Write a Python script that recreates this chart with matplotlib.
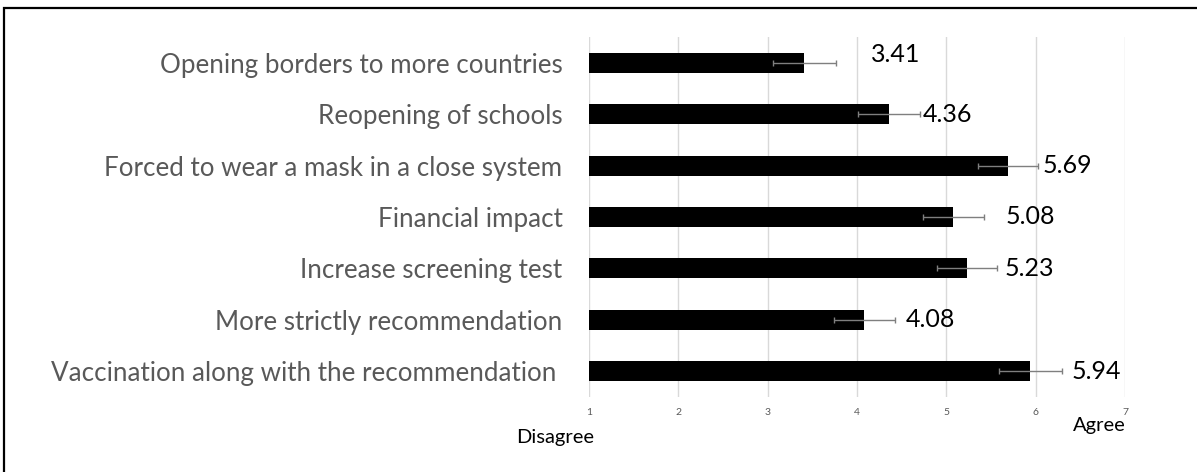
import matplotlib
matplotlib.use("Agg")
import matplotlib.pyplot as plt
from matplotlib.patches import Rectangle

plt.rcParams['font.family'] = ['Lato', 'DejaVu Sans']

# Survey items (top to bottom) and mean agreement scores (1-7 scale)
items = [
    "Opening borders to more countries",
    "Reopening of schools",
    "Forced to wear a mask in a close system",
    "Financial impact",
    "Increase screening test",
    "More strictly recommendation",
    "Vaccination along with the recommendation ",
]
means = [3.41, 4.36, 5.69, 5.08, 5.23, 4.08, 5.94]
errors = [0.35, 0.35, 0.34, 0.34, 0.34, 0.34, 0.35]
value_labels = ["3.41", "4.36", "5.69", "5.08", "5.23", "4.08", "5.94"]
ticks = [1, 2, 3, 4, 5, 6, 7]

# label nudges (data units), placed by hand in the original
label_dx = [0.40, 0.03, 0.05, 0.24, 0.08, 0.12, 0.11]
label_dy = [-0.16, 0.0, 0.0, 0.0, 0.0, 0.0, 0.0]

fig = plt.figure(figsize=(11.97, 4.72), dpi=100)
ax = fig.add_axes([589 / 1197, 1 - 397 / 472, 536 / 1197, 360 / 472])

ypos = list(range(len(items)))
ax.barh(ypos, [m - 1 for m in means], left=1, height=0.39, color='black', zorder=2)
ax.errorbar(means, ypos, xerr=errors, fmt='none', ecolor='#7f7f7f',
            elinewidth=1, capsize=2.2, capthick=1, zorder=3)

for y, m, e, t, dx, dy in zip(ypos, means, errors, value_labels, label_dx, label_dy):
    ax.text(m + e + dx, y + dy, t, fontsize=18, color='black',
            va='center', ha='left', zorder=4)

ax.set_xlim(1, 7)
ax.set_ylim(-0.5, len(items) - 0.5)
ax.invert_yaxis()
ax.set_xticks(ticks)
ax.set_xticklabels([str(t) for t in ticks], fontsize=7.5, color='#595959')
ax.set_yticks(ypos)
ax.set_yticklabels(items, fontsize=18.7, color='#595959')
ax.tick_params(axis='both', length=0)
ax.tick_params(axis='x', pad=8)
ax.tick_params(axis='y', pad=19)
ax.xaxis.grid(True, color='#d9d9d9', linewidth=1, zorder=0)
ax.set_axisbelow(True)
for s in ax.spines.values():
    s.set_visible(False)

fig.text(555 / 1197, 1 - 437 / 472, "Disagree", fontsize=14.5, color='black',
         ha='center', va='center')
fig.text(1099 / 1197, 1 - 425 / 472, "Agree", fontsize=14.5, color='black',
         ha='center', va='center')

# outer frame (cropped at right and bottom in the original)
fig.patches.append(Rectangle((4 / 1197, -0.1), 1.2, 1.1 - 8 / 472,
                             transform=fig.transFigure, fill=False,
                             edgecolor='black', linewidth=1.6))

fig.savefig("out.png", dpi=100)
